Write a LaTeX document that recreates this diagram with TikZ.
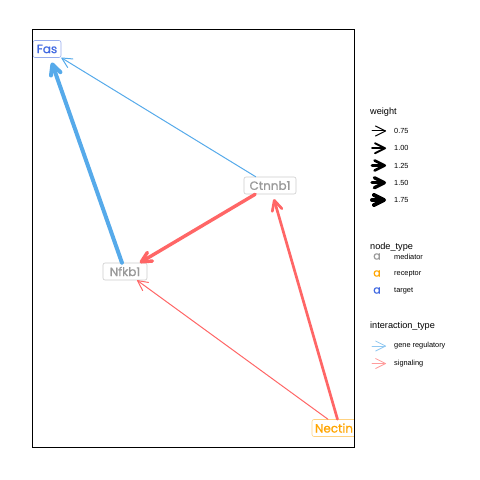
\documentclass[tikz,border=0pt]{standalone}
\usepackage{fontspec}
\setmainfont{Liberation Sans}
\newfontfamily\labelfont[FakeBold=0.7]{Poppins}
\usetikzlibrary{arrows.meta}

\definecolor{generegblue}{RGB}{86,170,234}
\definecolor{signalred}{RGB}{255,102,102}
\definecolor{mediatorgrey}{RGB}{153,153,153}
\definecolor{receptororange}{RGB}{255,165,0}
\definecolor{targetblue}{RGB}{65,105,225}

\tikzset{
	vertex/.style={draw, rounded corners=2bp, fill=white, line width=0.6bp,
		inner xsep=3bp, inner ysep=0pt, minimum height=17bp,
		font=\labelfont\fontsize{12}{12}\selectfont},
	mediator/.style={vertex, draw=mediatorgrey!50, text=mediatorgrey},
	receptor/.style={vertex, draw=receptororange!50, text=receptororange},
	target/.style={vertex, draw=targetblue!55, text=targetblue},
	edge/.style={line cap=round,
		-{Straight Barb[length=10bp, width=10bp, round]}},
	generegulatory/.style={edge, draw=generegblue},
	signaling/.style={edge, draw=signalred},
	legendtitle/.style={anchor=west, inner sep=0pt, font=\fontsize{9.2}{10}\selectfont},
	legendlabel/.style={anchor=west, inner sep=0pt, font=\fontsize{7.4}{8}\selectfont}
}

\begin{document}
\begin{tikzpicture}[x=1bp, y=-1bp]
\useasboundingbox (0,0) rectangle (480,480);

% network panel
\begin{scope}
\clip (32,29.5) rectangle (354,447);
\node[target, minimum width=28bp] (fas) at (47,49) {Fas};
\node[mediator, minimum width=52bp] (ctnnb1) at (270,185.5) {Ctnnb1};
\node[mediator, minimum width=44bp] (nfkb1) at (125,271.5) {Nfkb1};
\node[receptor, text width=50bp, align=left] (nectin) at (340,428) {Nectin};

\draw[generegulatory, line width=4bp, shorten >=5bp] (nfkb1) -- (fas);
\draw[generegulatory, line width=1bp] (ctnnb1) -- (fas);
\draw[signaling, line width=3.4bp] (ctnnb1) -- (nfkb1);
\draw[signaling, line width=2.7bp, shorten >=5bp] (nectin) -- (ctnnb1);
\draw[signaling, line width=1bp] (nectin) -- (nfkb1);
\end{scope}
\draw[line width=0.8bp] (32,29.5) rectangle (354,447);

% weight legend
\node[legendtitle] (weighttitle) at (370,112) {weight};
\foreach \i/\w/\v in {0/1/0.75, 1/2/1.00, 2/2.7/1.25, 3/3.3/1.50, 4/4/1.75}
{
	\pgfmathsetmacro\y{131 + 17.25*\i}
	\coordinate (w\i s) at (372,\y);
	\coordinate (w\i e) at (386,\y);
	\draw[edge, line width=\w bp] (w\i s) -- (w\i e);
	\node[legendlabel] (w\i l) at (394,\y) {\v};
}

% node_type legend
\node[legendtitle] (typetitle) at (370,246.7) {node\_type};
\foreach \i/\c/\v in {0/mediatorgrey/mediator, 1/receptororange/receptor, 2/targetblue/target}
{
	\pgfmathsetmacro\y{256.5 + 17*\i}
	\node[text=\c, inner sep=0pt, font=\labelfont\fontsize{11}{11}\selectfont] (t\i k) at (377,\y) {a};
	\node[legendlabel] (t\i l) at (394,\y) {\v};
}

% interaction_type legend
\node[legendtitle] (intertitle) at (370,326) {interaction\_type};
\foreach \i/\c/\v in {0/generegblue/gene regulatory, 1/signalred/signaling}
{
	\pgfmathsetmacro\y{346 + 17.5*\i}
	\coordinate (i\i s) at (372,\y);
	\coordinate (i\i e) at (386,\y);
	\draw[edge, line width=0.8bp, draw=\c!65] (i\i s) -- (i\i e);
	\node[legendlabel] (i\i l) at (394,\y) {\v};
}
\end{tikzpicture}
\end{document}
